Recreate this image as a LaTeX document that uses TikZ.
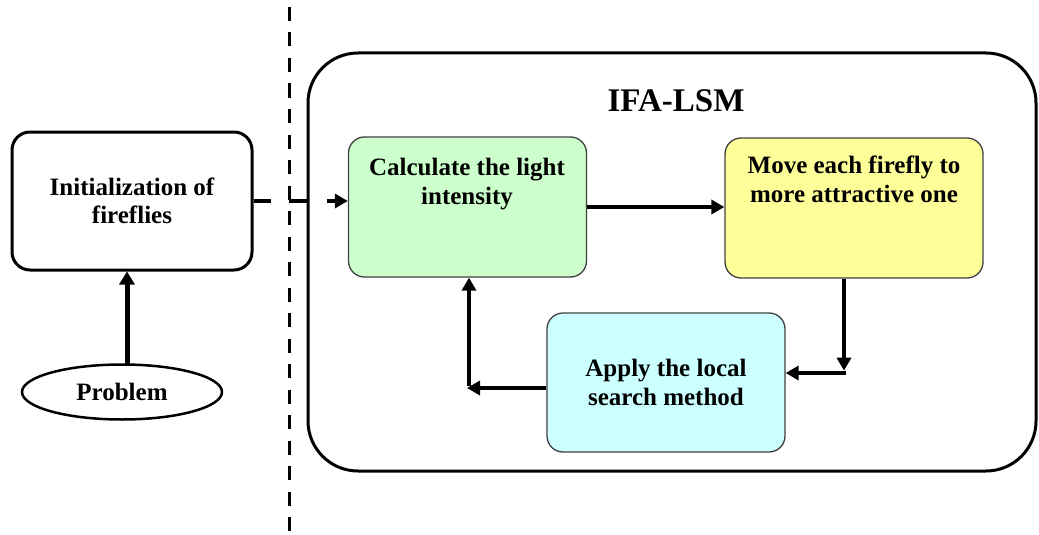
\documentclass[tikz,border=0pt]{standalone}
\usepackage{fontspec}
\setmainfont{Liberation Serif}
\usetikzlibrary{arrows.meta,shapes.geometric}
\definecolor{calcgreen}{HTML}{CCFFCC}
\definecolor{moveyellow}{HTML}{FFFF99}
\definecolor{applycyan}{HTML}{CCFFFF}
\begin{document}
\begin{tikzpicture}[x=1pt,y=-1pt,
  txt/.style={font=\bfseries\fontsize{25}{28.5}\selectfont, align=center, inner sep=0pt},
  colbox/.style={draw=black!75, line width=1.3pt, rounded corners=16pt, minimum width=238pt, minimum height=140pt, inner sep=0pt},
  arr/.style={line width=4pt, -{Triangle[length=13pt,width=14pt]}},
  plain/.style={line width=3.5pt},
]
\useasboundingbox (0,0) rectangle (1039,535);
% separator
\draw[line width=3pt, dash pattern=on 14pt off 11.5pt] (289,7) -- (289,535);
% container
\node[draw, line width=3pt, rounded corners=50pt, minimum width=728pt, minimum height=418pt, inner sep=0pt] (lsm) at (672,262) {};
\node[font=\bfseries\fontsize{33}{36}\selectfont, inner sep=0pt] (title) at (676,101) {IFA-LSM};
% left part
\node[draw, line width=3pt, rounded corners=18pt, minimum width=240pt, minimum height=138pt, inner sep=0pt, txt] (init) at (132,201) {Initialization of\\fireflies};
\node[draw, ellipse, line width=2.5pt, minimum width=200pt, minimum height=55pt, inner sep=0pt, txt] (prob) at (122,392) {Problem};
% boxes
\node[colbox, fill=calcgreen] (calc) at (467.5,207) {};
\node[txt, anchor=north] (calct) at (467,158) {Calculate the light\\intensity};
\node[colbox, fill=moveyellow, minimum width=258pt] (move) at (854,208) {};
\node[txt, anchor=north] (movet) at (854,156) {Move each firefly to\\more attractive one};
\node[colbox, fill=applycyan, minimum height=139pt] (apply) at (666,382.5) [txt] {Apply the local\\search method};
% connectors
\coordinate (p1) at (127,365);
\draw[line width=5pt, -{Triangle[length=13pt,width=15pt]}] (p1) -- (p1 |- init.south);
\coordinate (g1) at (271,201);
\coordinate (g2) at (289,201);
\coordinate (g3) at (308,201);
\coordinate (g4) at (327,201);
\draw[plain] (init.east) -- (g1);
\draw[plain] (g2) -- (g3);
\draw[arr, line width=3.5pt] (g4) -- (g4 -| calc.west);
\draw[arr] (calc.east) -- (move.west |- calc.east);
\coordinate (m1) at (844,373);
\draw[arr] (move.south -| m1) -- ++(0,92);
\draw[arr] ([xshift=2pt]m1) -- (m1 -| apply.east);
\coordinate (a1) at (469,388);
\draw[arr] (apply.west |- a1) -- ([xshift=-2pt]a1);
\draw[arr] ([yshift=2pt]a1) -- (a1 |- calc.south);
\end{tikzpicture}
\end{document}
